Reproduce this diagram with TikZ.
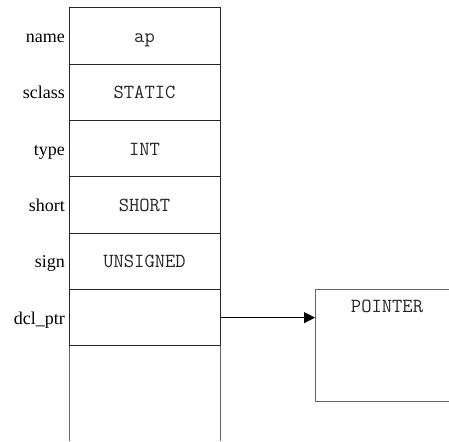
\documentclass[tikz,border=0pt]{standalone}
\usepackage{fontspec}
\setmainfont{Liberation Serif}
\usetikzlibrary{arrows.meta}
\tikzset{
  cell/.style={draw=black!85, line width=1pt, minimum width=151pt, minimum height=56.3pt, inner sep=0pt, outer sep=0pt},
  val/.style={anchor=base, font=\fontsize{20}{20}\ttfamily, text=black!85, inner sep=0pt},
  lab/.style={anchor=base east, font=\fontsize{18}{18}\selectfont, inner sep=0pt},
  ext/.style={draw=black!60, line width=1pt},
  ptrbox/.style={draw=black!60, line width=1pt, minimum width=144pt, minimum height=112.5pt, inner sep=0pt, outer sep=0pt},
  link/.style={line width=1pt, -{Triangle[length=11pt,width=11pt]}}
}
\begin{document}
\begin{tikzpicture}[x=1pt,y=-1pt]
\useasboundingbox (0,0) rectangle (449,441);
\clip (0,0) rectangle (449,441);
\foreach \n/\l/\v [count=\i from 0] in {c0/name/ap, c1/sclass/STATIC, c2/type/INT, c3/short/SHORT, c4/sign/UNSIGNED, c5/dcl\_ptr/{}} {
  \node[cell] (\n) at (144.5, 36.15+56.3*\i) {};
  \node[val] (v\n) at (144.5, 42.65+56.3*\i) {\v};
  \node[lab] (l\n) at (65, 42.65+56.3*\i) {\l};
}
\coordinate (bl) at (69,441);
\coordinate (br) at (220,441);
\draw[ext] (c5.south west) -- (bl);
\draw[ext] (c5.south east) -- (br);
\node[ptrbox] (ptr) at (387,345.5) {};
\node[val] (ptrtext) at (387,312.7) {POINTER};
\draw[link] (c5.east) -- (c5.east -| ptr.west);
\end{tikzpicture}
\end{document}
